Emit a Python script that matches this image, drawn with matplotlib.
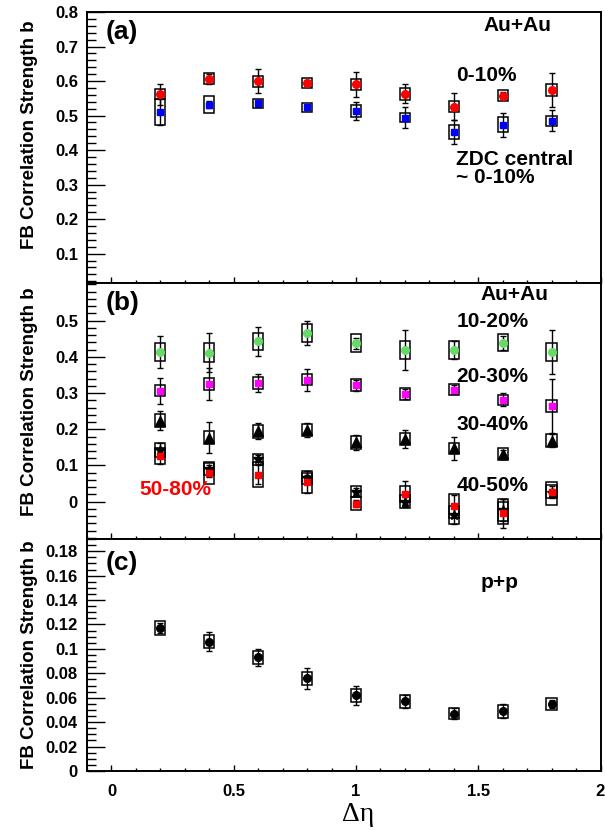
import numpy as np
import matplotlib

matplotlib.use("Agg")
import matplotlib.pyplot as plt
from matplotlib.patches import Rectangle
from matplotlib.ticker import MultipleLocator, FixedLocator, FuncFormatter

plt.rcParams["font.family"] = ["Liberation Sans", "DejaVu Sans"]
plt.rcParams["font.weight"] = "bold"

DETA = [0.2, 0.4, 0.6, 0.8, 1.0, 1.2, 1.4, 1.6, 1.8]

# panel (a): Au+Au 0-10% and ZDC central
B_0_10 = [0.562, 0.606, 0.600, 0.595, 0.590, 0.563, 0.526, 0.557, 0.574]
B_0_10_STAT = [0.030, 0.015, 0.035, 0.008, 0.035, 0.027, 0.038, 0.010, 0.050]
B_0_10_SYS = [0.015, 0.016, 0.016, 0.015, 0.017, 0.017, 0.016, 0.016, 0.016]
B_ZDC = [0.510, 0.531, 0.535, 0.524, 0.514, 0.494, 0.453, 0.473, 0.485]
B_ZDC_STAT = [0.038, 0.010, 0.010, 0.008, 0.026, 0.030, 0.035, 0.035, 0.030]
B_ZDC_SYS = [0.038, 0.025, 0.014, 0.013, 0.017, 0.013, 0.020, 0.022, 0.015]

# panel (b): Au+Au other centralities
B_10_20 = [0.414, 0.412, 0.443, 0.466, 0.438, 0.418, 0.419, 0.439, 0.414]
B_10_20_STAT = [0.045, 0.055, 0.040, 0.033, 0.015, 0.055, 0.025, 0.020, 0.060]
B_10_20_SYS = [0.025, 0.025, 0.024, 0.024, 0.024, 0.025, 0.025, 0.024, 0.025]
B_20_30 = [0.307, 0.325, 0.328, 0.337, 0.322, 0.298, 0.309, 0.282, 0.264]
B_20_30_STAT = [0.036, 0.045, 0.025, 0.030, 0.015, 0.013, 0.012, 0.018, 0.075]
B_20_30_SYS = [0.015, 0.016, 0.016, 0.016, 0.016, 0.016, 0.015, 0.014, 0.017]
B_30_40 = [0.224, 0.177, 0.195, 0.198, 0.164, 0.173, 0.147, 0.131, 0.169]
B_30_40_STAT = [0.027, 0.043, 0.022, 0.020, 0.020, 0.025, 0.033, 0.012, 0.018]
B_30_40_SYS = [0.017, 0.017, 0.018, 0.017, 0.018, 0.017, 0.016, 0.016, 0.018]
B_40_50 = [0.143, 0.090, 0.117, 0.065, 0.027, 0.000, -0.037, -0.022, 0.023]
B_40_50_STAT = [0.018, 0.012, 0.012, 0.010, 0.012, 0.012, 0.025, 0.030, 0.012]
B_40_50_SYS = [0.020, 0.017, 0.015, 0.015, 0.015, 0.018, 0.025, 0.030, 0.032]
B_50_80 = [0.125, 0.079, 0.075, 0.054, -0.006, 0.021, -0.012, -0.032, 0.027]
B_50_80_STAT = [0.020, 0.010, 0.027, 0.030, 0.010, 0.035, 0.030, 0.040, 0.015]
B_50_80_SYS = [0.022, 0.031, 0.034, 0.031, 0.018, 0.022, 0.033, 0.030, 0.018]

# panel (c): p+p
B_PP = [0.117, 0.106, 0.093, 0.076, 0.062, 0.057, 0.047, 0.049, 0.055]
B_PP_STAT = [0.004, 0.0075, 0.007, 0.0085, 0.0076, 0.0055, 0.0048, 0.0056, 0.003]
B_PP_SYS = [0.006, 0.0053, 0.0052, 0.0052, 0.0052, 0.005, 0.0048, 0.0052, 0.005]

TICKS_A = [0.1, 0.2, 0.3, 0.4, 0.5, 0.6, 0.7, 0.8]
TICKS_B = [0.0, 0.1, 0.2, 0.3, 0.4, 0.5]
TICKS_C = [0.0, 0.02, 0.04, 0.06, 0.08, 0.1, 0.12, 0.14, 0.16, 0.18]

BOX_HW = 0.021  # half width of systematic boxes in delta-eta
LBL = 15        # size of the in-plot labels


def draw_series(ax, y, stat, sys, color, marker, ms):
    for xi, yi, si in zip(DETA, y, sys):
        ax.add_patch(Rectangle((xi - BOX_HW, yi - si), 2 * BOX_HW, 2 * si,
                               fill=False, ec="k", lw=1.1, zorder=2))
    ax.errorbar(DETA, y, yerr=stat, fmt="none", ecolor="k", elinewidth=1.0,
                capsize=2.5, capthick=1.0, zorder=3)
    ax.plot(DETA, y, ls="none", marker=marker, color=color, mec=color,
            ms=ms, zorder=4)


W, H = 605, 830
fig = plt.figure(figsize=(W / 100, H / 100), dpi=100)
LEFT, RIGHT = 87 / W, 600.5 / W
edges = [12, 283, 539, 771]
axes = []
for top, bot in zip(edges[:-1], edges[1:]):
    ax = fig.add_axes([LEFT, 1 - bot / H, RIGHT - LEFT, (bot - top) / H])
    axes.append(ax)
ax_a, ax_b, ax_c = axes

fmt = FuncFormatter(lambda v, p: ("%g" % round(v, 4)))
for ax in axes:
    ax.set_xlim(-0.1, 2.0)
    ax.xaxis.set_major_locator(MultipleLocator(0.5))
    ax.xaxis.set_minor_locator(MultipleLocator(0.1))
    ax.tick_params(axis="x", which="major", direction="in", length=4.5,
                   width=1.0, top=False, labelsize=12, pad=9)
    ax.tick_params(axis="x", which="minor", direction="in", length=2.2,
                   width=1.0, top=False)
    ax.tick_params(axis="y", which="major", direction="in", length=13,
                   width=1.0, right=False, labelsize=12, pad=6.5)
    ax.tick_params(axis="y", which="minor", direction="in", length=6.5,
                   width=1.0, right=False)
    for s in ax.spines.values():
        s.set_linewidth(1.4)
    if ax is not ax_c:
        ax.tick_params(axis="x", labelbottom=False)
ax_c.xaxis.set_major_formatter(fmt)

# (a)
ax_a.set_ylim(0.015, 0.8)
ax_a.yaxis.set_major_locator(FixedLocator(TICKS_A))
ax_a.yaxis.set_minor_locator(MultipleLocator(0.02))
ax_a.yaxis.set_major_formatter(fmt)
draw_series(ax_a, B_ZDC, B_ZDC_STAT, B_ZDC_SYS, "#0000ff", "s", 5)
draw_series(ax_a, B_0_10, B_0_10_STAT, B_0_10_SYS, "#ff0000", "o", 5.5)
ax_a.text(-0.025, 0.742, "(a)", fontsize=19, va="center")
ax_a.text(1.52, 0.762, "Au+Au", fontsize=LBL, va="center")
ax_a.text(1.41, 0.615, "0-10%", fontsize=LBL, va="center")
ax_a.text(1.41, 0.372, "ZDC central", fontsize=LBL, va="center")
ax_a.text(1.41, 0.322, "~ 0-10%", fontsize=LBL, va="center")

# (b)
ax_b.set_ylim(-0.103, 0.604)
ax_b.yaxis.set_major_locator(FixedLocator(TICKS_B))
ax_b.yaxis.set_minor_locator(MultipleLocator(0.02))
ax_b.yaxis.set_major_formatter(fmt)
draw_series(ax_b, B_10_20, B_10_20_STAT, B_10_20_SYS, "#66d966", "o", 5.5)
draw_series(ax_b, B_20_30, B_20_30_STAT, B_20_30_SYS, "#ff00ff", "s", 5)
draw_series(ax_b, B_30_40, B_30_40_STAT, B_30_40_SYS, "k", "^", 6.5)
draw_series(ax_b, B_40_50, B_40_50_STAT, B_40_50_SYS, "k", "*", 7.5)
draw_series(ax_b, B_50_80, B_50_80_STAT, B_50_80_SYS, "#ff0000", "s", 5)
ax_b.text(-0.025, 0.549, "(b)", fontsize=19, va="center")
ax_b.text(1.51, 0.571, "Au+Au", fontsize=LBL, va="center")
ax_b.text(1.41, 0.497, "10-20%", fontsize=LBL, va="center")
ax_b.text(1.41, 0.345, "20-30%", fontsize=LBL, va="center")
ax_b.text(1.41, 0.214, "30-40%", fontsize=LBL, va="center")
ax_b.text(1.41, 0.046, "40-50%", fontsize=LBL, va="center")
ax_b.text(0.115, 0.034, "50-80%", fontsize=LBL, va="center",
          color="#ff0000")

# (c)
ax_c.set_ylim(0.0, 0.19)
ax_c.yaxis.set_major_locator(FixedLocator(TICKS_C))
ax_c.yaxis.set_minor_locator(MultipleLocator(0.005))
ax_c.yaxis.set_major_formatter(fmt)
draw_series(ax_c, B_PP, B_PP_STAT, B_PP_SYS, "k", "o", 5.5)
ax_c.text(-0.025, 0.170, "(c)", fontsize=19, va="center")
ax_c.text(1.51, 0.154, "p+p", fontsize=LBL, va="center")

fig.text(358 / W, 1 - 814 / H, "\u0394\u03b7", fontsize=20,
         fontweight="normal", family=["Liberation Serif", "DejaVu Serif"],
         ha="center", va="center")

for top in (20, 287, 540):
    fig.text(30 / W, 1 - top / H, "FB Correlation Strength b", rotation=90,
             va="top", ha="center", fontsize=13.5, fontweight="bold")

fig.savefig("out.png", dpi=100)
